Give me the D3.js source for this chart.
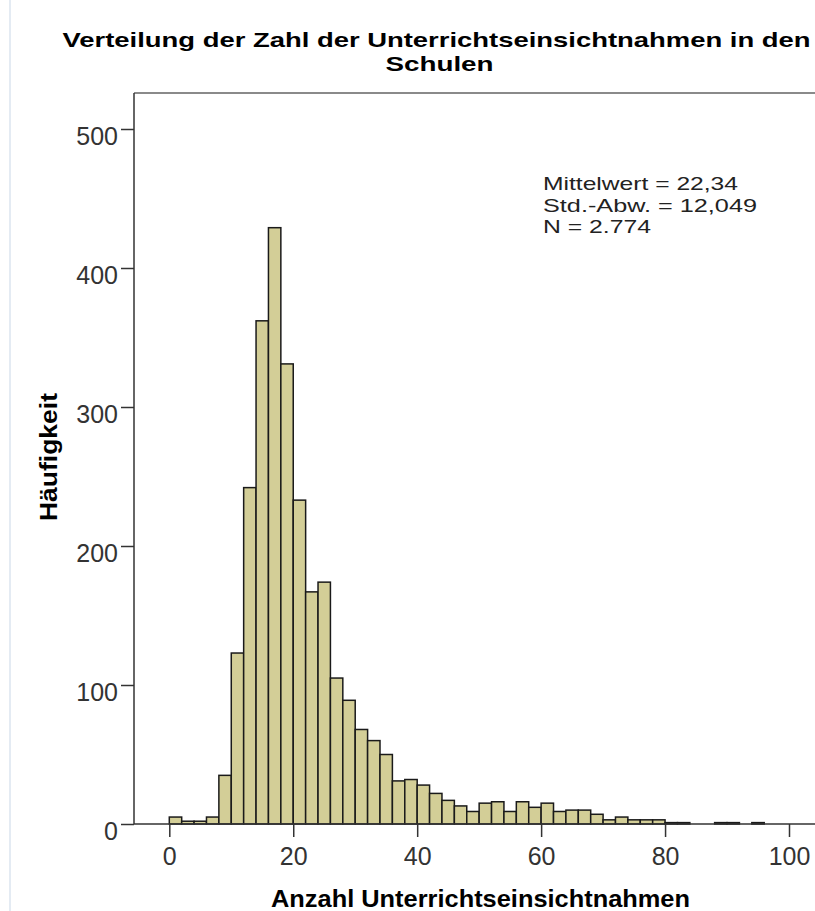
<!DOCTYPE html>
<html>
<head>
<meta charset="utf-8">
<script src="https://cdn.jsdelivr.net/npm/d3@7"></script>
<style>
  html, body { margin: 0; padding: 0; background: #fff; }
  svg { display: block; font-family: "Liberation Sans", Arial, sans-serif; }
</style>
</head>
<body>
<svg id="chart" width="815" height="911"></svg>
<script>
// ---- data ----
const binStarts = [0,2,4,6,8,10,12,14,16,18,20,22,24,26,28,30,32,34,36,38,40,42,44,46,48,
                   50,52,54,56,58,60,62,64,66,68,70,72,74,76,78,80,82,84,86,88,90,92,94];
const counts    = [5,2,2,5,35,123,242,362,429,331,233,167,174,105,89,68,60,50,31,32,28,22,17,13,9,
                   15,16,9,16,12,15,9,10,10,7,3,5,3,3,3,1,1,0,0,1,1,0,1];
const binWidth = 2;
const xTicks = [0,20,40,60,80,100];
const yTicks = [0,100,200,300,400,500];
const titleLines = ["Verteilung der Zahl der Unterrichtseinsichtnahmen in den", "Schulen"];
const xTitle = "Anzahl Unterrichtseinsichtnahmen";
const yTitle = "Häufigkeit";
const statsLines = ["Mittelwert = 22,34", "Std.-Abw. = 12,049", "N = 2.774"];

const bins = binStarts.map((s, i) => ({x0: s, x1: s + binWidth, n: counts[i]}));

// ---- layout ----
const svg = d3.select("#chart");
const plotLeft = 134, plotTop = 93, plotBottom = 824, plotRight = 840;

const x = d3.scaleLinear().domain([0, 100]).range([169.3, 789]);
const y = d3.scaleLinear().domain([0, 500]).range([824, 129]);

// faint outer border at left
svg.append("line").attr("x1", 10).attr("x2", 10).attr("y1", 0).attr("y2", 911)
  .attr("stroke", "#e4ebf3").attr("stroke-width", 2);

// top frame line
svg.append("line").attr("x1", plotLeft).attr("x2", plotRight).attr("y1", plotTop).attr("y2", plotTop)
  .attr("stroke", "#8a8a8a").attr("stroke-width", 2);

// bars
svg.append("g").selectAll("rect")
  .data(bins.filter(d => d.n > 0))
  .join("rect")
  .attr("x", d => x(d.x0))
  .attr("width", d => x(d.x1) - x(d.x0))
  .attr("y", d => y(d.n))
  .attr("height", d => y(0) - y(d.n))
  .attr("fill", "#d3ce97")
  .attr("stroke", "#1a1a1a")
  .attr("stroke-width", 1.5);

// axes
const xAxis = svg.append("g").attr("transform", `translate(0,${plotBottom})`)
  .call(d3.axisBottom(x).tickValues(xTicks).tickSize(13).tickPadding(10).tickFormat(d3.format("d")));
xAxis.select(".domain").remove();
xAxis.append("line").attr("x1", plotLeft).attr("x2", plotRight).attr("y1", 0).attr("y2", 0)
  .attr("stroke", "#333").attr("stroke-width", 1.5);
xAxis.selectAll(".tick line").attr("stroke", "#333").attr("stroke-width", 1.5);
xAxis.selectAll(".tick text").attr("font-size", 25).attr("fill", "#333")
  .attr("font-family", "'Liberation Sans', Arial, sans-serif");

const yAxis = svg.append("g").attr("transform", `translate(${plotLeft},0)`)
  .call(d3.axisLeft(y).tickValues(yTicks).tickSize(13).tickPadding(3).tickFormat(d3.format("d")));
yAxis.select(".domain").remove();
yAxis.append("line").attr("x1", 0).attr("x2", 0).attr("y1", plotTop).attr("y2", plotBottom)
  .attr("stroke", "#333").attr("stroke-width", 1.5);
yAxis.selectAll(".tick line").attr("stroke", "#333").attr("stroke-width", 1.5);
yAxis.selectAll(".tick text").attr("font-size", 25).attr("fill", "#333")
  .attr("dy", "0.62em")
  .attr("font-family", "'Liberation Sans', Arial, sans-serif");

// multi-line text block, each line fitted to its measured width
function block(lines, opts) {
  lines.forEach((s, i) => {
    const t = svg.append("text").text(s).attr("font-size", opts.size)
      .attr("font-weight", opts.weight || "normal").attr("fill", opts.fill || "#000")
      .attr("x", opts.xs[i]).attr("y", opts.y0 + i * opts.lh);
    if (opts.widths && opts.widths[i]) {
      t.attr("textLength", opts.widths[i]).attr("lengthAdjust", "spacingAndGlyphs");
    }
  });
}

// title
block(titleLines, {size: 21, weight: "bold", xs: [62.5, 385.5], y0: 47, lh: 24, widths: [748, 108]});

// axis titles
block([xTitle], {size: 24, weight: "bold", xs: [271], y0: 907, lh: 0, widths: [419]});
svg.append("g").attr("transform", "translate(57,521) rotate(-90)")
  .append("text").text(yTitle).attr("font-size", 24).attr("font-weight", "bold")
  .attr("textLength", 128).attr("lengthAdjust", "spacingAndGlyphs");

// statistics annotation
block(statsLines, {size: 19, fill: "#222", xs: [543, 543, 543], y0: 190, lh: 21.5, widths: [195, 214, 108]});
</script>
</body>
</html>
